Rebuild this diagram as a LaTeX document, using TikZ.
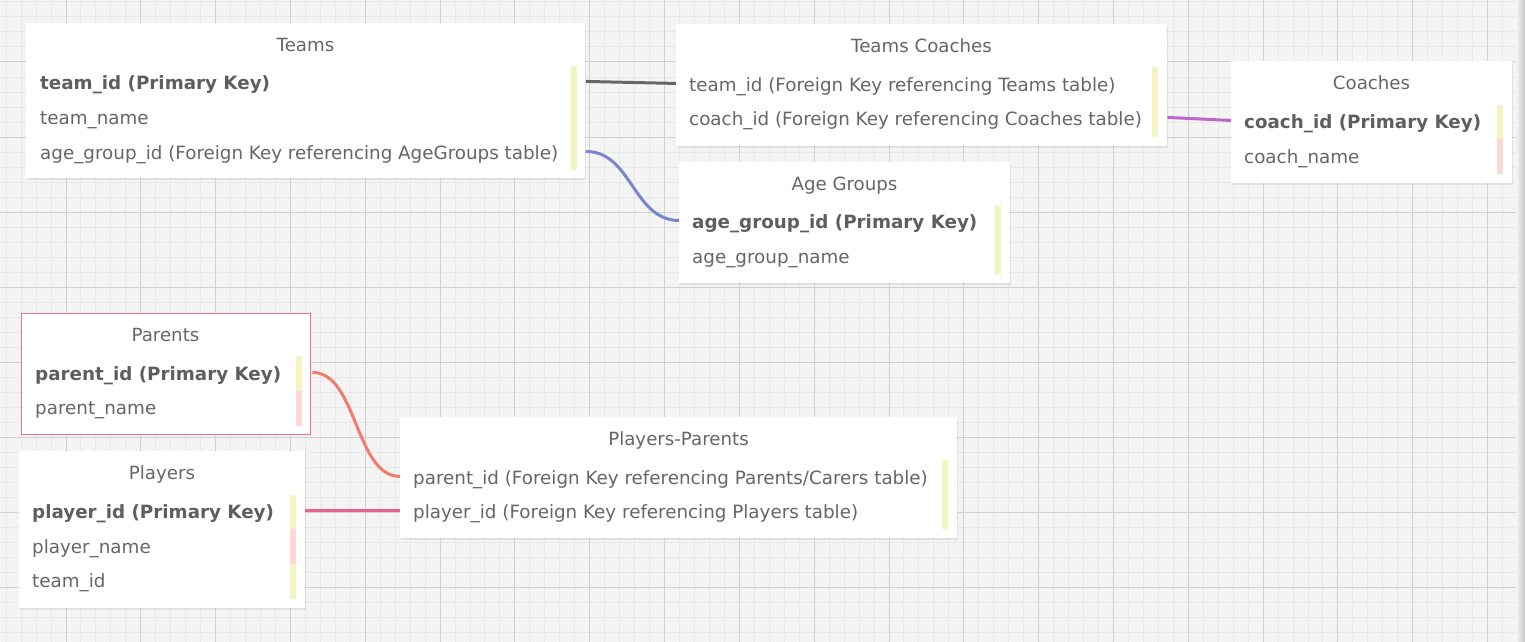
\documentclass[tikz,border=0pt]{standalone}
\usepackage{fontspec}
\setmainfont{DejaVu Sans}
\usetikzlibrary{shadows}
\definecolor{bgc}{HTML}{F4F4F4}
\definecolor{minorc}{HTML}{E8E8E8}
\definecolor{majorc}{HTML}{D0D0D0}
\definecolor{txtc}{HTML}{666666}
\definecolor{boldc}{HTML}{5E5E5E}
\definecolor{barY}{HTML}{F4F4C3}
\definecolor{barP}{HTML}{FDD8D8}
\definecolor{lnGray}{HTML}{666666}
\definecolor{lnBlue}{HTML}{7986CB}
\definecolor{lnPurple}{HTML}{BA68C8}
\definecolor{lnSalmon}{HTML}{F27B6B}
\definecolor{lnPink}{HTML}{E8628C}
\definecolor{parentsBorder}{RGB}{242,110,155}
\tikzset{
  tbox/.style={fill=white, draw=none, inner sep=0pt, anchor=north west,
    drop shadow={opacity=0.16, shadow xshift=0.8pt, shadow yshift=-1.6pt}},
  selbox/.style={fill=white, inner sep=0pt, anchor=north west},
  selborder/.style={draw=parentsBorder, line width=1.2pt},
  ttitle/.style={text=txtc, font=\fontsize{18.2}{22}\selectfont, inner sep=0pt, anchor=mid},
  trow/.style={text=txtc, font=\fontsize{18.3}{22}\selectfont, inner sep=0pt, anchor=mid west},
  tkey/.style={text=boldc, font=\fontsize{18.3}{22}\selectfont\bfseries, inner sep=0pt, anchor=mid west},
  conn/.style={line width=3pt},
}
\begin{document}
\begin{tikzpicture}[x=1pt,y=-1pt]
\useasboundingbox (0,0) rectangle (1525,642);
% background grid
\fill[bgc] (0,0) rectangle (1525,642);
\foreach \i in {-4,...,97} {\draw[minorc, line width=1pt] ({66+14.964*\i},0) -- ({66+14.964*\i},642);}
\foreach \j in {-4,...,38} {\draw[minorc, line width=1pt] (0,{62+15*\j}) -- (1525,{62+15*\j});}
\foreach \i in {0,...,19} {\draw[majorc, line width=1pt] ({66+74.82*\i},0) -- ({66+74.82*\i},642);}
\foreach \j in {-1,...,7} {\draw[majorc, line width=1pt] (0,{62+75*\j}) -- (1525,{62+75*\j});}
\shade[left color=bgc, right color=black!22] (1516,0) rectangle (1525,642);

% ---------- Teams ----------
\node[tbox, minimum width=559pt, minimum height=155pt] (teams) at (26,23) {};
\fill[barY] (571,66) rectangle (577,170);
\node[ttitle] (teams-t) at (305.5,49) {Teams};
\node[tkey] (teams-1) at (40,87) {team\_id (Primary Key)};
\node[trow] (teams-2) at (40,122) {team\_name};
\node[trow] (teams-3) at (40,157) {age\_group\_id (Foreign Key referencing AgeGroups table)};

% ---------- Teams Coaches ----------
\node[tbox, minimum width=491pt, minimum height=122pt] (tc) at (676,24) {};
\fill[barY] (1152,67) rectangle (1158,137);
\node[ttitle] (tc-t) at (921.5,50) {Teams Coaches};
\node[trow] (tc-1) at (689,89) {team\_id (Foreign Key referencing Teams table)};
\node[trow] (tc-2) at (689,123) {coach\_id (Foreign Key referencing Coaches table)};

% ---------- Coaches ----------
\node[tbox, minimum width=281pt, minimum height=122pt] (co) at (1231,61) {};
\fill[barY] (1497,105) rectangle (1503,139);
\fill[barP] (1497,139) rectangle (1503,174);
\node[ttitle] (co-t) at (1371.5,87) {Coaches};
\node[tkey] (co-1) at (1244,126) {coach\_id (Primary Key)};
\node[trow] (co-2) at (1244,161) {coach\_name};

% ---------- Age Groups ----------
\node[tbox, minimum width=331pt, minimum height=121pt] (ag) at (679,162) {};
\fill[barY] (995,205) rectangle (1001,275);
\node[ttitle] (ag-t) at (844.5,188) {Age Groups};
\node[tkey] (ag-1) at (692,226) {age\_group\_id (Primary Key)};
\node[trow] (ag-2) at (692,261) {age\_group\_name};

% ---------- Parents (selected) ----------
\node[selbox, minimum width=290.5pt, minimum height=122pt] (pa) at (20.5,313) {};
\draw[selborder] ([shift={(0.6pt,-0.6pt)}]pa.north west) rectangle ([shift={(-0.6pt,0.6pt)}]pa.south east);
\fill[barY] (296,356) rectangle (302,391);
\fill[barP] (296,391) rectangle (302,426);
\node[ttitle] (pa-t) at (165.5,339) {Parents};
\node[tkey] (pa-1) at (35,378) {parent\_id (Primary Key)};
\node[trow] (pa-2) at (35,412) {parent\_name};

% ---------- Players ----------
\node[tbox, minimum width=286pt, minimum height=157pt] (pl) at (19,451) {};
\fill[barY] (290,495) rectangle (296,529);
\fill[barP] (290,529) rectangle (296,564);
\fill[barY] (290,564) rectangle (296,599);
\node[ttitle] (pl-t) at (162,477) {Players};
\node[tkey] (pl-1) at (32,516) {player\_id (Primary Key)};
\node[trow] (pl-2) at (32,551) {player\_name};
\node[trow] (pl-3) at (32,585) {team\_id};

% ---------- Players-Parents ----------
\node[tbox, minimum width=557pt, minimum height=121pt] (pp) at (400,417) {};
\fill[barY] (942,460) rectangle (948,529);
\node[ttitle] (pp-t) at (678.5,443) {Players-Parents};
\node[trow] (pp-1) at (413,482) {parent\_id (Foreign Key referencing Parents/Carers table)};
\node[trow] (pp-2) at (413,516) {player\_id (Foreign Key referencing Players table)};

% ---------- connector end points (at the row centres) ----------
\coordinate (c1a) at ([xshift=0.5pt,yshift=3.5pt]teams.east |- teams-1);
\coordinate (c1b) at ([yshift=3.5pt]tc.west |- tc-1);
\coordinate (c2a) at ([xshift=0.5pt,yshift=3.5pt]teams.east |- teams-3);
\coordinate (c2b) at ([yshift=3.5pt]ag.west |- ag-1);
\coordinate (c3a) at ([yshift=3.5pt]tc.east |- tc-2);
\coordinate (c3b) at ([yshift=3.5pt]co.west |- co-1);
\coordinate (c4a) at ([xshift=1pt,yshift=3.5pt]pa.east |- pa-1);
\coordinate (c4b) at ([yshift=3.5pt]pp.west |- pp-1);
\coordinate (c5a) at ([yshift=3.5pt]pl.east |- pl-1);
\coordinate (c5b) at ([yshift=3.5pt]pp.west |- pp-2);

% ---------- connectors ----------
\draw[conn, lnGray] (c1a) -- (c1b);
\draw[conn, lnBlue] (c2a) .. controls +(46,0) and +(-46,0) .. (c2b);
\draw[conn, lnPurple] (c3a) -- (c3b);
\draw[conn, lnSalmon] (c4a) .. controls +(45,0) and +(-45,0) .. (c4b);
\draw[conn, lnPink] (c5a) -- (c5b);
\end{tikzpicture}
\end{document}
